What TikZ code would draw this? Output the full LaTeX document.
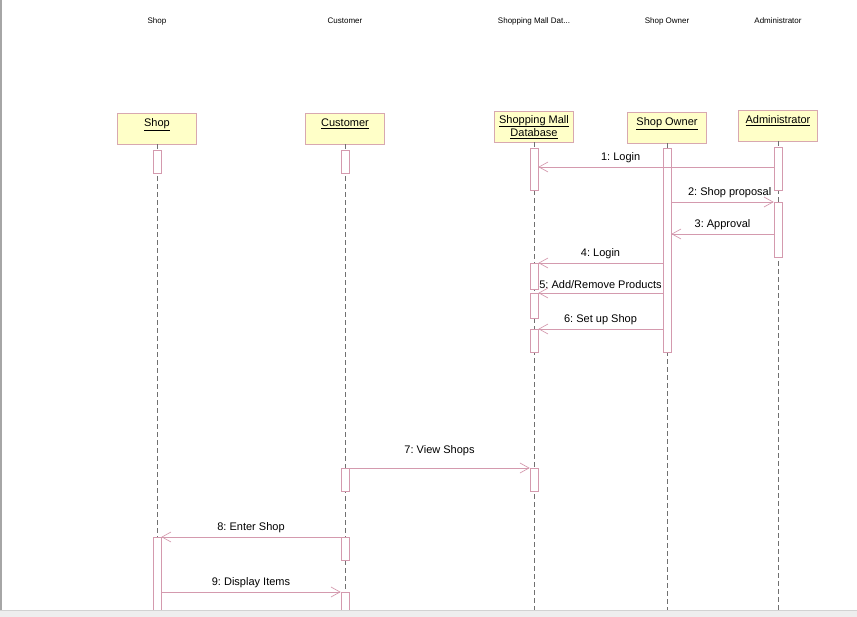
\documentclass[tikz,border=0pt]{standalone}
\usepackage{fontspec}
\setmainfont{Liberation Sans}
\frenchspacing
\usetikzlibrary{arrows.meta, positioning}
\definecolor{msgcolor}{HTML}{D49AAE}
\definecolor{boxframe}{HTML}{D8A8B0}
\definecolor{boxbg}{HTML}{FFFFC8}
\definecolor{lifecolor}{HTML}{707070}
\definecolor{barbg}{HTML}{EEEEEE}

\begin{document}
\begin{tikzpicture}[x=1pt, y=-1pt, every node/.style={font=\fontsize{11}{12}\selectfont}]
\tikzstyle{obj}=[draw=boxframe, fill=boxbg, minimum width=79pt, minimum height=31pt, inner sep=2pt, align=center, anchor=north]
\tikzstyle{objtop}=[obj, text depth=12pt]
\tikzstyle{act}=[draw=msgcolor, fill=white, minimum width=8pt, inner sep=0pt, anchor=north, line width=0.6pt]
\tikzstyle{life}=[draw=lifecolor, dash pattern=on 5pt off 3pt]
\tikzstyle{msg}=[-{Straight Barb[length=9pt, width=10pt]}, draw=msgcolor, line width=0.7pt]
\tikzstyle{toplabel}=[font=\fontsize{8}{9}\selectfont]

\useasboundingbox (0,0) rectangle (857,617);

% names above the frame
\node[toplabel](tshop) at (157,21){Shop};
\node[toplabel](tcust) at (345,21){Customer};
\node[toplabel](tdb) at (534,21){Shopping Mall Dat...};
\node[toplabel](towner) at (667,21){Shop Owner};
\node[toplabel](tadmin) at (778,21){Administrator};

% objects
\node[objtop](shop) at (157,113){\underline{Shop}};
\node[objtop](cust) at (345,113){\underline{Customer}};
\node[obj](db) at (534,111){\underline{Shopping Mall}\\\underline{Database}};
\node[objtop](owner) at (667,112){\underline{Shop Owner}};
\node[objtop](admin) at (778,110){\underline{Administrator}};

\coordinate (shopend) at (157,610);
\coordinate (custend) at (345,610);
\coordinate (dbend) at (534,610);
\coordinate (ownerend) at (667,610);
\coordinate (adminend) at (778,610);

\draw[life](shop.south)--(shopend);
\draw[life](cust.south)--(custend);
\draw[life](db.south)--(dbend);
\draw[life](owner.south)--(ownerend);
\draw[life](admin.south)--(adminend);

% activations
\node[act, minimum height=23pt](shop1) at (157,150){};
\node[act, minimum height=75pt](shop2) at (157,537){};
\node[act, minimum height=23pt](cust1) at (345,150){};
\node[act, minimum height=23pt](cust2) at (345,468){};
\node[act, minimum height=23pt](cust3) at (345,537){};
\node[act, minimum height=20pt](cust4) at (345,592){};
\node[act, minimum height=42pt](db1) at (534,148){};
\node[act, minimum height=26pt](db2) at (534,263){};
\node[act, minimum height=25pt](db3) at (534,293){};
\node[act, minimum height=23pt](db4) at (534,329){};
\node[act, minimum height=23pt](db5) at (534,468){};
\node[act, minimum height=204pt](owner1) at (667,148){};
\node[act, minimum height=43pt](admin1) at (778,147){};
\node[act, minimum height=55pt](admin2) at (778,202){};

% messages
\draw[msg](admin1.west |- 0,167)--node[above, pos=0.65, yshift=1pt]{1: Login}(db1.east |- 0,167);
\draw[msg](owner1.east |- 0,202)--node[above, pos=0.57, yshift=1pt]{2: Shop proposal}(admin2.west |- 0,202);
\draw[msg](admin2.west |- 0,234)--node[above, yshift=1pt]{3: Approval}(owner1.east |- 0,234);
\draw[msg](owner1.west |- 0,263)--node[above, yshift=1pt]{4: Login}(db2.east |- 0,263);
\draw[msg](owner1.west |- 0,293)--node[above, yshift=1pt]{5: Add/Remove Products}(db3.east |- 0,293);
\draw[msg](owner1.west |- 0,329)--node[above, yshift=1pt]{6: Set up Shop}(db4.east |- 0,329);
\draw[msg](cust2.east |- 0,468)--node[above, yshift=9pt]{7: View Shops}(db5.west |- 0,468);
\draw[msg](cust3.west |- 0,537)--node[above, yshift=1pt]{8: Enter Shop}(shop2.east |- 0,537);
\draw[msg](shop2.east |- 0,592)--node[above, yshift=1pt]{9: Display Items}(cust4.west |- 0,592);

% window edges
\draw[gray!70, line width=1.5pt](0.75,0)--(0.75,610);
\fill[barbg](0,610) rectangle (857,617);
\draw[gray!35](0,610.5)--(857,610.5);
\end{tikzpicture}
\end{document}
